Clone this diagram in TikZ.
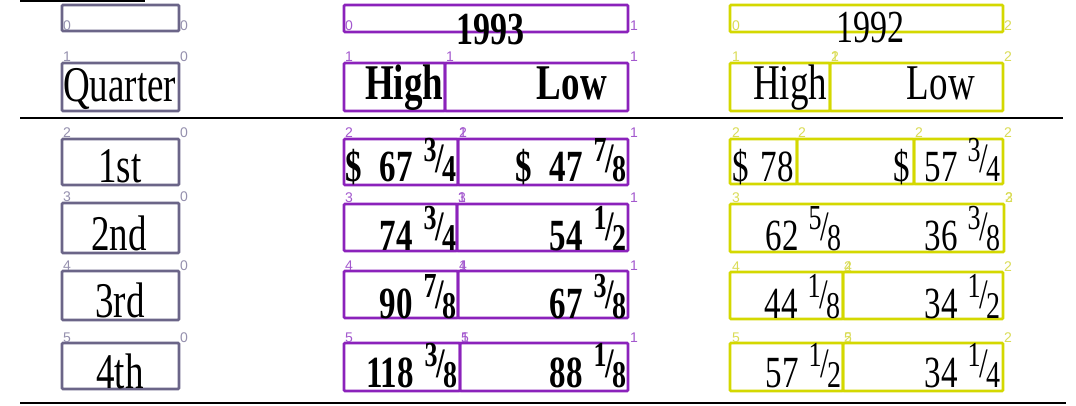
\documentclass[tikz,border=0pt]{standalone}
\usepackage{fontspec}
\usepackage{graphicx}
\setmainfont{Liberation Serif}
\newfontfamily\labfont{Liberation Sans}
\newcommand\vsc[1]{\scalebox{1}[1.35]{#1}}
\newcommand\fr[2]{{\fontsize{26}{26}\selectfont\raisebox{15pt}{#1}\kern-1pt\fontsize{31}{31}\selectfont\raisebox{7pt}{/}\kern-1.5pt\fontsize{28}{28}\selectfont #2}}
\definecolor{cgray}{HTML}{6B6588}
\definecolor{cpurp}{HTML}{8B22BB}
\definecolor{cyell}{HTML}{D4D800}
\definecolor{lgray}{HTML}{9590AE}
\definecolor{lpurp}{HTML}{A358CE}
\definecolor{lyell}{HTML}{DADC55}
\tikzset{
  gbox/.style={draw=cgray,line width=2.6pt,rounded corners=1pt},
  pbox/.style={draw=cpurp,line width=2.6pt,rounded corners=1pt},
  ybox/.style={draw=cyell,line width=2.6pt,rounded corners=1pt},
  rule/.style={draw=black,line width=2pt},
  tx/.style={inner sep=0pt,font=\fontsize{37}{37}\selectfont},
  txb/.style={inner sep=0pt,font=\fontsize{37}{37}\selectfont\bfseries},
  hd/.style={inner sep=0pt,anchor=base,font=\fontsize{34}{34}\selectfont},
  nm/.style={inner sep=0pt,anchor=base east,font=\fontsize{33}{33}\selectfont},
  nmb/.style={inner sep=0pt,anchor=base east,font=\fontsize{33}{33}\selectfont\bfseries},
  dl/.style={inner sep=0pt,anchor=base west,font=\fontsize{33}{33}\selectfont},
  dlb/.style={inner sep=0pt,anchor=base west,font=\fontsize{33}{33}\selectfont\bfseries},
  lb/.style={inner sep=0pt,anchor=base west,font=\labfont\fontsize{14}{14}\selectfont}
}
\begin{document}
\begin{tikzpicture}[x=1pt,y=-1pt]
\useasboundingbox[fill=white] (0,0) rectangle (1076,406);
% rules
\draw[rule,line width=1.6pt] (20,0.8) -- (145,0.8);
\draw[rule] (20,118) -- (1063,118);
\draw[rule] (20,403) -- (1066,403);
% gray boxes
\draw[gbox] (62,5) rectangle (179,31);
\draw[gbox] (62,63) rectangle (179,111);
\draw[gbox] (62,139) rectangle (179,185);
\draw[gbox] (62,203) rectangle (179,253);
\draw[gbox] (62,271) rectangle (179,320);
\draw[gbox] (62,343) rectangle (179,389);
% purple boxes
\draw[pbox] (344,5) rectangle (628,32);
\draw[pbox] (344,63) rectangle (445,111);
\draw[pbox] (445,63) rectangle (628,111);
\draw[pbox] (344,139) rectangle (458,185);
\draw[pbox] (458,139) rectangle (628,185);
\draw[pbox] (344,204) rectangle (457,251);
\draw[pbox] (457,204) rectangle (628,251);
\draw[pbox] (344,271) rectangle (458,318);
\draw[pbox] (458,271) rectangle (628,318);
\draw[pbox] (344,343) rectangle (460,391);
\draw[pbox] (460,343) rectangle (628,391);
% yellow boxes
\draw[ybox] (730,5) rectangle (1003,32);
\draw[ybox] (730,63) rectangle (830,111);
\draw[ybox] (830,63) rectangle (1003,111);
\draw[ybox] (730,139) rectangle (797,184);
\draw[ybox] (797,139) rectangle (914,184);
\draw[ybox] (914,139) rectangle (1003,184);
\draw[ybox] (730,204) rectangle (1004,252);
\draw[ybox] (730,272) rectangle (843,319);
\draw[ybox] (843,272) rectangle (1003,319);
\draw[ybox] (730,343) rectangle (843,391);
\draw[ybox] (843,343) rectangle (1003,391);
% gray texts
\node[tx,anchor=base west] (tq) at (63,102) {\vsc{Quarter}};
\node[tx,anchor=base] (t1) at (120,183) {\vsc{1st}};
\node[tx,anchor=base] (t2) at (119,250) {\vsc{2nd}};
\node[tx,anchor=base] (t3) at (120,317) {\vsc{3rd}};
\node[tx,anchor=base] (t4) at (120,388) {\vsc{4th}};
% headers
\node[hd,font=\fontsize{34}{34}\selectfont\bfseries] (h93) at (490,45) {\vsc{1993}};
\node[hd] (h92) at (870,43) {\vsc{1992}};
\node[txb,anchor=base west] (phi) at (365,100) {\vsc{High}};
\node[txb,anchor=base east] (plo) at (607,100) {\vsc{Low}};
\node[tx,anchor=base west] (yhi) at (753,100) {\vsc{High}};
\node[tx,anchor=base east] (ylo) at (975,100) {\vsc{Low}};
% purple numbers
\node[dlb] (p2ad) at (345,182) {\vsc{\$}};
\node[nmb] (p2a) at (457,182) {\vsc{67\hspace{11pt}\fr34}};
\node[dlb] (p2bd) at (515,182) {\vsc{\$}};
\node[nmb] (p2b) at (627,182) {\vsc{47\hspace{11pt}\fr78}};
\node[nmb] (p3a) at (457,250) {\vsc{74\hspace{11pt}\fr34}};
\node[nmb] (p3b) at (627,250) {\vsc{54\hspace{11pt}\fr12}};
\node[nmb] (p4a) at (457,318) {\vsc{90\hspace{11pt}\fr78}};
\node[nmb] (p4b) at (627,318) {\vsc{67\hspace{11pt}\fr38}};
\node[nmb] (p5a) at (458,387) {\vsc{118\hspace{11pt}\fr38}};
\node[nmb] (p5b) at (627,387) {\vsc{88\hspace{11pt}\fr18}};
% yellow numbers
\node[dl] (y2ad) at (732,182) {\vsc{\$}};
\node[nm] (y2a) at (794,182) {\vsc{78}};
\node[dl] (y2bd) at (893,182) {\vsc{\$}};
\node[nm] (y2c) at (1001,182) {\vsc{57\hspace{10pt}\fr34}};
\node[nm] (y3a) at (842,250) {\vsc{62\hspace{10pt}\fr58}};
\node[nm] (y3b) at (1001,250) {\vsc{36\hspace{10pt}\fr38}};
\node[nm] (y4a) at (841,318) {\vsc{44\hspace{10pt}\fr18}};
\node[nm] (y4b) at (1001,318) {\vsc{34\hspace{10pt}\fr12}};
\node[nm] (y5a) at (842,387) {\vsc{57\hspace{10pt}\fr12}};
\node[nm] (y5b) at (1001,387) {\vsc{34\hspace{10pt}\fr14}};
% gray labels
\foreach \t/\x/\y [count=\k] in {0/63/31,0/180/31,1/63/62,0/180/62,2/63/138,0/180/138,3/63/202,0/180/202,4/63/270,0/180/270,5/63/342,0/180/342}
  \node[lb,text=lgray] (lg\k) at (\x,\y) {\t};
% purple labels
\foreach \t/\x/\y [count=\k] in {0/345/31,1/630/31,1/345/62,1/446/62,1/630/62,2/345/138,2/459/138,1/459/138,1/630/138,3/345/203,3/458/203,1/458/203,1/630/203,4/345/270,4/459/270,1/459/270,1/630/270,5/345/342,5/461/342,1/461/342,1/630/342}
  \node[lb,text=lpurp] (lp\k) at (\x,\y) {\t};
% yellow labels
\foreach \t/\x/\y [count=\k] in {0/732/31,2/1004/31,1/732/62,1/831/62,2/831/62,2/1004/62,2/732/138,2/798/138,2/915/138,2/1004/138,3/732/203,3/1005/203,2/1005/203,4/732/271,4/844/271,2/844/271,2/1004/271,5/732/342,5/844/342,2/844/342,2/1004/342}
  \node[lb,text=lyell] (ly\k) at (\x,\y) {\t};
\end{tikzpicture}
\end{document}
